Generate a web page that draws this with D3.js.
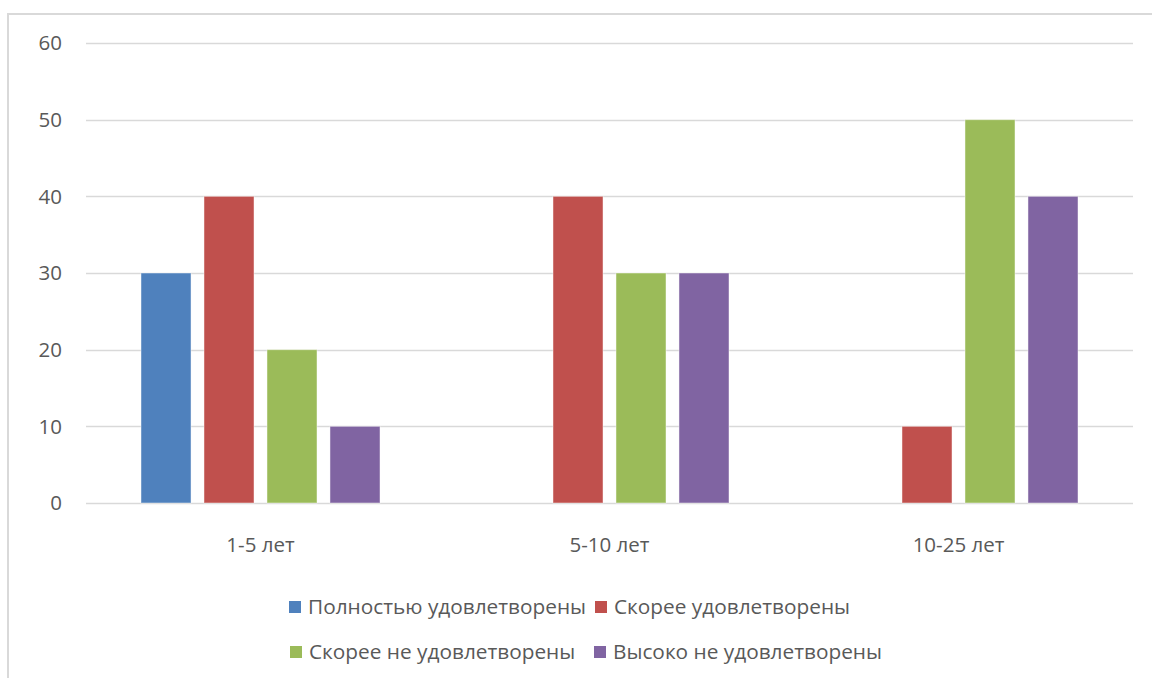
<!DOCTYPE html>
<html>
<head>
<meta charset="utf-8">
<script src="https://cdn.jsdelivr.net/npm/d3@7"></script>
<style>
  body { margin: 0; background: #fff; }
  svg text { font-family: "Open Sans", sans-serif; fill: #595959; }
</style>
</head>
<body>
<svg id="chart"></svg>
<script>
const categories = ["1-5 лет", "5-10 лет", "10-25 лет"]
const seriesNames = ["Полностью удовлетворены", "Скорее удовлетворены", "Скорее не удовлетворены", "Высоко не удовлетворены"]
const full = [30, 0, 0]
const rather = [40, 40, 10]
const ratherNot = [20, 30, 50]
const highlyNot = [10, 30, 40]
const yTicks = [0, 10, 20, 30, 40, 50, 60]
const colors = ["#4F81BD", "#C0504D", "#9BBB59", "#8064A2"]

const seriesValues = [full, rather, ratherNot, highlyNot]
const rows = categories.map((c, i) => ({
  category: c,
  values: seriesNames.map((s, j) => ({ series: s, value: seriesValues[j][i] }))
}))

const width = 1152, height = 678
const svg = d3.select("#chart").attr("width", width).attr("height", height)

// chart frame (cut off on the right and bottom in the original)
svg.append("rect")
  .attr("x", 8).attr("y", 14)
  .attr("width", 1170).attr("height", 700)
  .attr("fill", "none")
  .attr("stroke", "#d9d9d9")
  .attr("stroke-width", 2)

const plot = { left: 86, right: 1133, top: 43, bottom: 503 }

const y = d3.scaleLinear().domain([0, 60]).range([plot.bottom, plot.top])
const x0 = d3.scaleBand().domain(categories).range([plot.left, plot.right])
const x1 = d3.scaleBand().domain(seriesNames).range([0, x0.bandwidth()])
  .paddingInner(0.206).paddingOuter(0.873)
const color = d3.scaleOrdinal().domain(seriesNames).range(colors)

// gridlines
svg.append("g")
  .selectAll("line")
  .data(yTicks)
  .enter().append("line")
  .attr("x1", plot.left).attr("x2", plot.right)
  .attr("y1", d => Math.round(y(d)) + 0.5).attr("y2", d => Math.round(y(d)) + 0.5)
  .attr("stroke", "#d9d9d9")
  .attr("stroke-width", 1.5)

// y labels
svg.append("g")
  .selectAll("text")
  .data(yTicks)
  .enter().append("text")
  .attr("x", 62)
  .attr("y", d => y(d))
  .attr("dy", "0.35em")
  .attr("text-anchor", "end")
  .style("font-size", "20.5px")
  .text(d => d)

// bars
const groups = svg.append("g")
  .selectAll("g")
  .data(rows)
  .enter().append("g")
  .attr("transform", d => `translate(${x0(d.category)},0)`)

groups.selectAll("rect")
  .data(d => d.values.filter(v => v.value > 0))
  .enter().append("rect")
  .attr("x", d => x1(d.series))
  .attr("y", d => y(d.value))
  .attr("width", x1.bandwidth())
  .attr("height", d => y(0) - y(d.value))
  .attr("fill", d => color(d.series))
  .attr("stroke", "#ffffff")
  .attr("stroke-opacity", 0.45)
  .attr("stroke-width", 1)

// category labels
svg.append("g")
  .selectAll("text")
  .data(categories)
  .enter().append("text")
  .attr("x", d => x0(d) + x0.bandwidth() / 2)
  .attr("y", 545)
  .attr("dy", "0.35em")
  .attr("text-anchor", "middle")
  .style("font-size", "20.5px")
  .text(d => d)

// legend, two rows of two
const legendPos = [[289, 607], [595, 607], [290, 652], [594, 652]]
const legend = svg.append("g")
  .selectAll("g")
  .data(seriesNames)
  .enter().append("g")
  .attr("transform", (d, i) => `translate(${legendPos[i][0]},${legendPos[i][1]})`)

legend.append("rect")
  .attr("x", 0).attr("y", -6)
  .attr("width", 12).attr("height", 12)
  .attr("fill", d => color(d))

legend.append("text")
  .attr("x", 19)
  .attr("y", 0)
  .attr("dy", "0.35em")
  .style("font-size", "20.8px")
  .text(d => d)
</script>
</body>
</html>
